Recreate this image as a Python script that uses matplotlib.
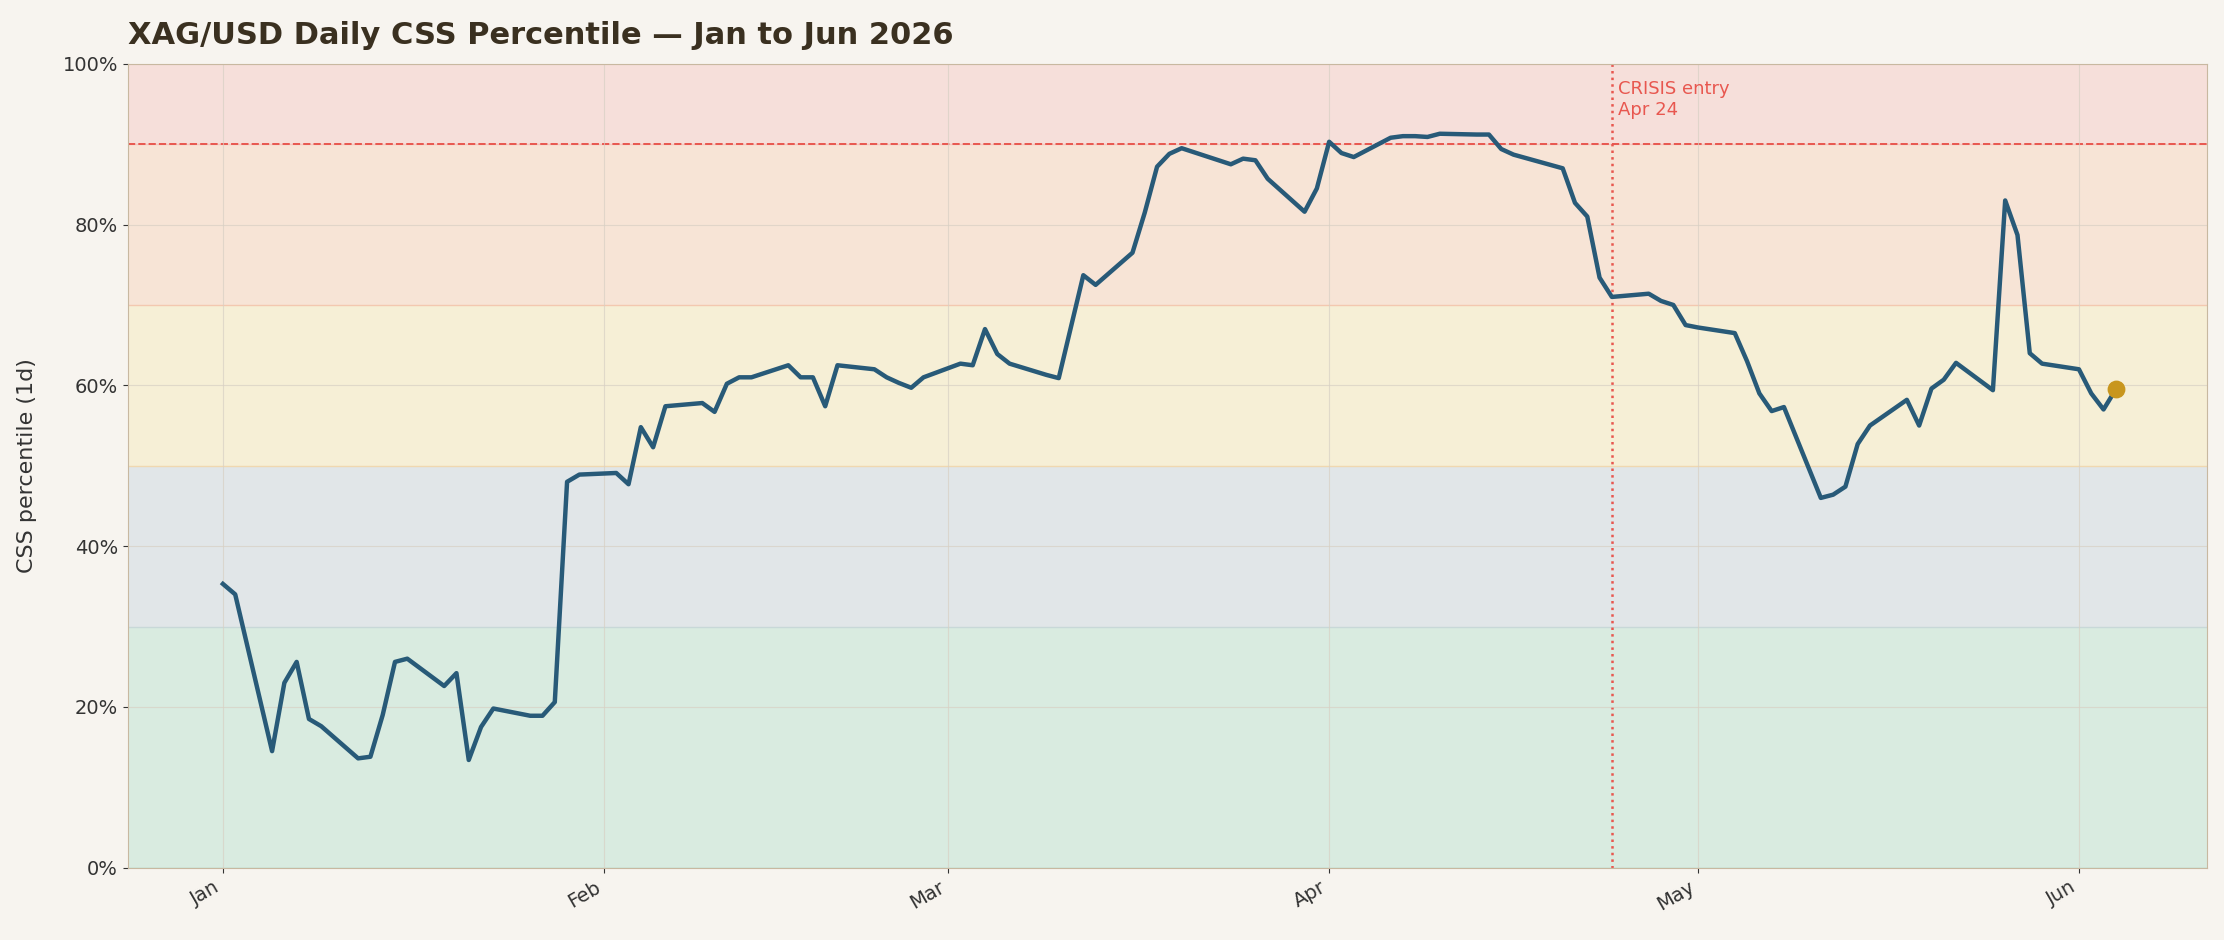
import matplotlib
matplotlib.use("Agg")
import matplotlib.pyplot as plt
import matplotlib.dates as mdates
import pandas as pd
from matplotlib.ticker import FuncFormatter

dates = ["2026-01-01","2026-01-02","2026-01-05","2026-01-06","2026-01-07","2026-01-08","2026-01-09",
"2026-01-12","2026-01-13","2026-01-14","2026-01-15","2026-01-16","2026-01-19","2026-01-20","2026-01-21",
"2026-01-22","2026-01-23","2026-01-26","2026-01-27","2026-01-28","2026-01-29","2026-01-30",
"2026-02-02","2026-02-03","2026-02-04","2026-02-05","2026-02-06","2026-02-09","2026-02-10","2026-02-11",
"2026-02-12","2026-02-13","2026-02-16","2026-02-17","2026-02-18","2026-02-19","2026-02-20",
"2026-02-23","2026-02-24","2026-02-25","2026-02-26","2026-02-27","2026-03-02","2026-03-03","2026-03-04",
"2026-03-05","2026-03-06","2026-03-09","2026-03-10","2026-03-12","2026-03-13","2026-03-16","2026-03-17",
"2026-03-18","2026-03-19","2026-03-20","2026-03-23","2026-03-24","2026-03-25","2026-03-26","2026-03-27",
"2026-03-30","2026-03-31","2026-04-01","2026-04-02","2026-04-03","2026-04-06","2026-04-07","2026-04-08",
"2026-04-09","2026-04-10","2026-04-13","2026-04-14","2026-04-15","2026-04-16","2026-04-20","2026-04-21",
"2026-04-22","2026-04-23","2026-04-24","2026-04-27","2026-04-28","2026-04-29","2026-04-30","2026-05-01",
"2026-05-04","2026-05-05","2026-05-06","2026-05-07","2026-05-08","2026-05-11","2026-05-12","2026-05-13",
"2026-05-14","2026-05-15","2026-05-18","2026-05-19","2026-05-20","2026-05-21","2026-05-22","2026-05-25",
"2026-05-26","2026-05-27","2026-05-28","2026-05-29","2026-06-01","2026-06-02","2026-06-03","2026-06-04"]
percentile = [35.3,34,14.5,23,25.6,18.5,17.6,13.6,13.8,19,25.6,26,22.6,24.2,13.4,17.5,19.8,18.9,18.9,20.6,
48,48.9,49.1,47.7,54.8,52.3,57.4,57.8,56.7,60.2,61,61,62.5,61,61,57.4,62.5,62,61,60.3,59.7,61,
62.7,62.5,67,63.9,62.7,61.3,60.9,73.7,72.5,76.5,81.5,87.2,88.8,89.5,88,87.5,88.2,88,85.7,81.6,84.5,
90.3,88.9,88.4,90.8,91,91,90.9,91.3,91.2,91.2,89.4,88.7,87,82.7,81,73.4,71,71.4,70.5,70,67.5,67.2,
66.5,63,59,56.8,57.3,46,46.4,47.4,52.7,55,58.2,55,59.6,60.7,62.8,59.4,83,78.7,64,62.7,62,59,57,59.5]
bands = [(0,30,"#d9ebe0"),(30,50,"#e1e6e8"),(50,70,"#f6efd6"),(70,90,"#f7e4d6"),(90,100,"#f6dfda")]
band_edges = ["#a8d8c8","#c8d8d8","#f0d8b0","#f3c8b0","#f3c8c0"]

x = pd.to_datetime(dates)
bg = "#f7f4ef"
fig = plt.figure(figsize=(22.24, 9.4), dpi=100, facecolor=bg)
ax = fig.add_axes([90/1568, 1-612/663, (1556-90)/1568, (612-45)/663])
ax.set_facecolor(bg)
for (lo, hi, c), ec in zip(bands, band_edges):
    ax.axhspan(lo, hi, color=c, zorder=0, lw=0)
    ax.axhline(lo, color=ec, lw=1, zorder=0.5)
ax.grid(True, color="#d8d0c4", lw=0.8, alpha=0.7, zorder=0.6)
ax.axhline(90, color="#e8574f", ls="--", lw=1.4, zorder=1)
crisis = pd.Timestamp("2026-04-24")
ax.axvline(crisis, color="#e8574f", ls=":", lw=1.8, zorder=1)
ax.text(crisis + pd.Timedelta(days=0.5), 98, "CRISIS entry\nApr 24", color="#e8574f",
        fontsize=13, va="top", ha="left")
ax.plot(x, percentile, color="#285a78", lw=3.2, zorder=3)
ax.scatter([x[-1]], [percentile[-1]], s=140, color="#c8961e", zorder=4)
ax.set_ylim(0, 100)
ax.set_xlim(pd.Timestamp("2025-12-24 06:00"), pd.Timestamp("2026-06-11 10:00"))
ax.yaxis.set_major_formatter(FuncFormatter(lambda v, p: f"{v:.0f}%"))
ax.xaxis.set_major_locator(mdates.MonthLocator())
ax.xaxis.set_major_formatter(mdates.DateFormatter("%b"))
plt.setp(ax.get_xticklabels(), rotation=30, ha="right")
ax.tick_params(labelsize=14, colors="#333333")
ax.set_ylabel("CSS percentile (1d)", fontsize=16, color="#333333", labelpad=18)
for s in ax.spines.values():
    s.set_color("#c8b8a0")
ax.set_title("XAG/USD Daily CSS Percentile — Jan to Jun 2026", loc="left", fontsize=22,
             fontweight="bold", color="#3a3020", pad=14)
fig.savefig("out.png", dpi=100, facecolor=bg)
